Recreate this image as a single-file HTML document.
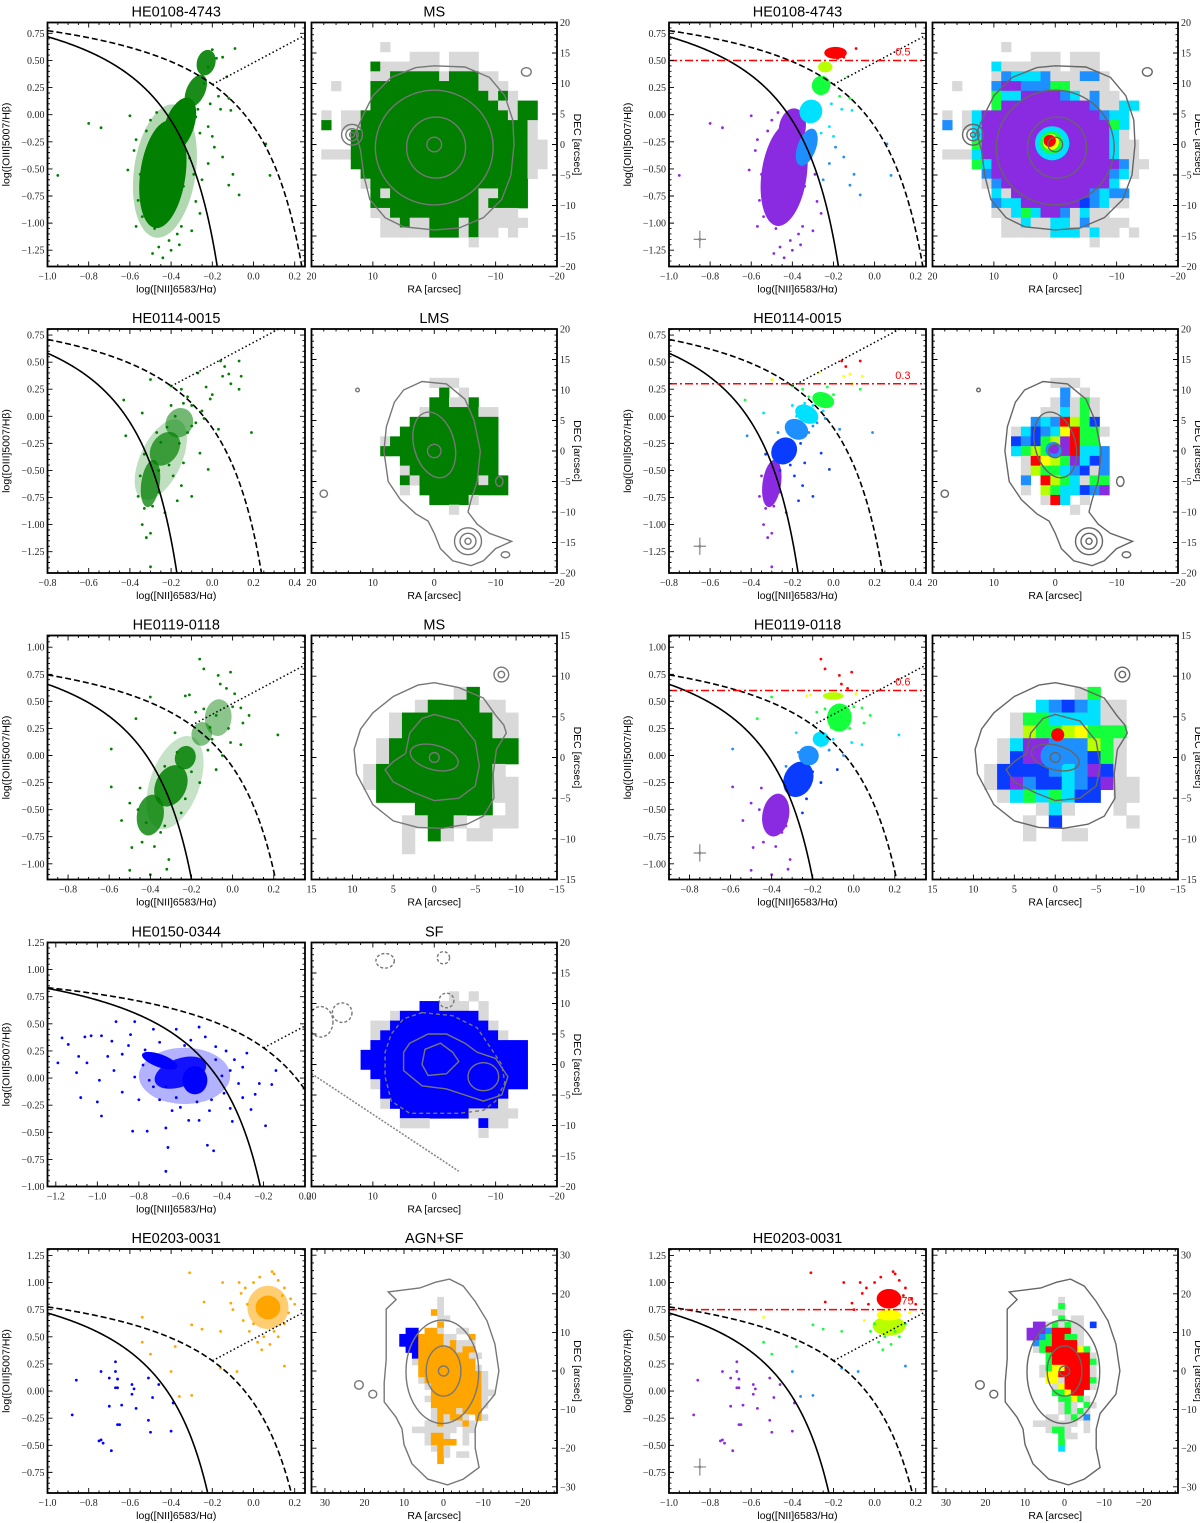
<!DOCTYPE html>
<html><head><meta charset="utf-8">
<style>
html,body{margin:0;padding:0;background:#fff;width:1200px;height:1523px;overflow:hidden;}
svg{display:block;}
.tk{font-family:"Liberation Serif","DejaVu Serif",serif;font-size:10px;fill:#222;}
.ttl{font-family:"Liberation Sans","DejaVu Sans",sans-serif;font-size:14.5px;fill:#000;}
.lab{font-family:"Liberation Sans","DejaVu Sans",sans-serif;font-size:10.5px;fill:#000;}
</style></head>
<body>
<svg id="fig" xmlns="http://www.w3.org/2000/svg" width="1200" height="1523" viewBox="0 0 1200 1523"></svg>
<script>
// ---------------- DATA ----------------
const titles = ['HE0108-4743','HE0114-0015','HE0119-0118','HE0150-0344','HE0203-0031'];
const classes = ['MS','LMS','MS','SF','AGN+SF'];
const hasRight = [true,true,true,false,true];
const xTicks1 = [-1.0,-0.8,-0.6,-0.4,-0.2,0.0,0.2];
const xTicks2 = [-0.8,-0.6,-0.4,-0.2,0.0,0.2,0.4];
const xTicks3 = [-0.8,-0.6,-0.4,-0.2,0.0,0.2];
const xTicks4 = [-1.2,-1.0,-0.8,-0.6,-0.4,-0.2,0.0];
const xTicks5 = [-1.0,-0.8,-0.6,-0.4,-0.2,0.0,0.2];
const yTicks1 = [-1.25,-1.0,-0.75,-0.5,-0.25,0.0,0.25,0.5,0.75];
const yTicks2 = [-1.25,-1.0,-0.75,-0.5,-0.25,0.0,0.25,0.5,0.75];
const yTicks3 = [-1.0,-0.75,-0.5,-0.25,0.0,0.25,0.5,0.75,1.0];
const yTicks4 = [-1.0,-0.75,-0.5,-0.25,0.0,0.25,0.5,0.75,1.0,1.25];
const yTicks5 = [-0.75,-0.5,-0.25,0.0,0.25,0.5,0.75,1.0,1.25];
const raTicks20 = [20,10,0,-10,-20];
const decTicks20 = [-20,-15,-10,-5,0,5,10,15,20];
const raTicks15 = [15,10,5,0,-5,-10,-15];
const decTicks15 = [-15,-10,-5,0,5,10,15];
const raTicks30 = [30,20,10,0,-10,-20];
const decTicks30 = [-30,-20,-10,0,10,20,30];

// BPT scatter points (log NII/Ha, log OIII/Hb)
const pts1 = [[-0.80,-0.08],[-0.74,-0.12],[-0.95,-0.56],[-0.60,-0.01],[-0.61,-0.51],[-0.57,-1.03],[-0.09,0.61],[-0.11,0.04],[0.06,-0.27],[0.08,-0.56],[-0.07,-0.74],[-0.12,-0.65],[-0.10,-0.55],[-0.15,-0.39],[-0.19,-0.30],[-0.17,0.17],[-0.12,0.15],[-0.22,-0.11],[-0.26,-0.17],[-0.49,-1.28],[-0.46,-1.22],[-0.41,-1.16],[-0.37,-1.10],[-0.35,-1.03],[-0.54,-0.94],[-0.56,-0.79],[-0.58,-0.33],[-0.57,-0.23],[-0.28,-0.02],[-0.26,-0.91],[-0.30,-1.07],[-0.34,-0.66],[-0.24,0.29],[-0.22,0.44],[-0.15,0.53],[-0.13,0.35],[-0.52,-0.15],[-0.53,-0.70],[-0.31,-0.40],[-0.29,-0.55],[-0.48,-1.05],[-0.40,-1.25],[-0.20,0.60],[-0.18,0.52],[-0.27,0.05],[-0.33,0.08],[-0.50,-0.05],[-0.47,0.02],[-0.22,-0.45],[-0.25,-0.60],[-0.28,-0.80],[-0.20,-0.20],[-0.16,0.05],[-0.21,0.10],[-0.55,-0.55],[-0.52,-0.90],[-0.44,-1.32],[-0.36,-1.20]];
const pts2 = [[-0.43,0.15],[-0.42,-0.18],[-0.34,0.03],[-0.30,0.34],[-0.25,-0.24],[-0.20,0.28],[-0.15,0.25],[-0.10,0.10],[-0.07,0.40],[-0.03,0.27],[-0.01,0.16],[0.04,0.51],[0.05,0.37],[0.08,0.39],[0.13,0.51],[0.14,0.37],[0.13,0.25],[0.19,-0.15],[0.09,0.30],[0.03,-0.12],[-0.02,-0.49],[-0.10,-0.74],[-0.17,-0.78],[-0.15,-0.64],[-0.23,-0.89],[-0.34,-1.00],[-0.30,-1.08],[-0.32,-1.12],[-0.30,-1.39],[-0.14,-0.43],[-0.06,-0.34],[-0.08,-0.06],[-0.18,0.00],[-0.20,0.10],[-0.10,-0.09],[-0.36,-0.74],[-0.29,-0.83],[-0.12,0.18],[-0.05,0.05],[0.00,0.20],[-0.26,-0.50],[-0.33,-0.35],[-0.21,-0.45],[0.06,0.46],[-0.27,-0.15],[-0.22,-0.10],[-0.16,-0.25],[-0.12,-0.15],[-0.35,-0.55],[-0.33,-0.85],[-0.26,-0.70],[-0.19,-0.55],[-0.14,0.12],[-0.04,-0.02]];
const pts3 = [[-0.16,0.89],[-0.07,0.74],[-0.01,0.77],[-0.14,0.80],[-0.23,0.55],[-0.21,0.56],[-0.40,0.54],[-0.47,0.34],[-0.59,0.06],[-0.59,-0.29],[-0.50,-0.44],[-0.54,-0.60],[-0.49,-0.85],[-0.50,-1.06],[-0.40,-1.10],[-0.32,-1.05],[-0.31,-0.96],[-0.27,0.03],[-0.28,0.21],[0.22,0.19],[0.08,0.37],[0.04,0.44],[0.01,0.57],[-0.08,0.37],[-0.14,0.43],[-0.11,0.26],[-0.01,0.12],[0.04,0.10],[-0.05,0.00],[-0.08,-0.13],[-0.16,-0.25],[-0.23,-0.40],[-0.25,-0.53],[-0.33,-0.65],[-0.44,-0.80],[-0.38,-0.84],[-0.35,-0.71],[-0.03,0.62],[-0.06,0.66],[0.05,0.30],[-0.18,0.40],[-0.45,-0.30],[-0.42,-0.62],[-0.46,-0.50],[-0.36,-0.40],[-0.33,-0.10],[-0.20,-0.15],[-0.12,0.05],[0.00,0.45],[-0.02,0.25],[-0.10,0.15]];
const pts4 = [[-1.19,0.14],[-1.17,0.37],[-1.14,0.31],[-1.08,-0.18],[-1.09,0.20],[-1.06,0.38],[-1.03,0.39],[-0.98,0.39],[-0.99,-0.02],[-0.98,-0.35],[-1.00,-0.22],[-0.93,0.34],[-0.91,0.52],[-0.82,0.52],[-0.83,-0.49],[-0.76,-0.49],[-0.88,-0.13],[-0.67,-0.46],[-0.66,-0.64],[-0.67,-0.86],[-0.47,-0.62],[-0.44,-0.67],[-0.51,-0.39],[-0.36,-0.28],[-0.26,-0.29],[-0.19,-0.44],[-0.16,-0.06],[-0.14,0.07],[-0.34,0.17],[-0.51,0.47],[-0.73,0.45],[-0.77,0.26],[-0.82,0.01],[-0.73,-0.08],[-0.62,0.45],[-0.43,0.29],[-0.36,0.07],[-0.39,-0.14],[-0.60,-0.27],[-0.56,-0.39],[-0.67,-0.08],[-0.92,0.07],[-1.05,0.14],[-0.51,0.04],[-0.43,0.17],[-0.28,0.23],[-0.85,0.30],[-0.80,-0.20],[-0.70,0.33],[-0.45,-0.20],[-0.40,0.02],[-0.32,-0.05],[-0.48,0.38],[-0.95,0.20],[-0.62,-0.18],[-0.55,0.35],[-0.30,0.10],[-0.24,-0.15],[-0.88,0.22],[-0.78,0.12],[-0.84,0.40],[-0.70,-0.20],[-0.46,-0.30],[-0.38,0.25],[-0.30,-0.18],[-0.22,-0.05],[-0.35,-0.40],[-0.58,0.30],[-0.75,-0.02],[-1.10,0.05],[-0.64,-0.30],[-0.52,-0.22]];
const pts5blue = [[-0.67,0.27],[-0.74,0.18],[-0.67,0.18],[-0.86,0.10],[-0.70,0.12],[-0.66,0.11],[-0.59,0.06],[-0.67,0.03],[-0.66,0.03],[-0.58,0.02],[-0.51,0.12],[-0.46,0.06],[-0.59,-0.03],[-0.49,-0.06],[-0.70,-0.14],[-0.64,-0.13],[-0.57,-0.16],[-0.88,-0.22],[-0.66,-0.31],[-0.65,-0.31],[-0.51,-0.27],[-0.50,-0.38],[-0.40,-0.37],[-0.75,-0.46],[-0.74,-0.45],[-0.73,-0.48],[-0.69,-0.55],[-0.39,-0.11]];
const pts5orange = [[-0.31,1.09],[-0.54,0.68],[-0.54,0.45],[-0.50,0.34],[-0.38,0.41],[-0.30,0.61],[-0.25,0.57],[-0.40,0.18],[-0.36,-0.05],[-0.30,-0.04],[-0.24,0.82],[-0.16,0.21],[-0.08,0.18],[-0.15,1.00],[0.15,0.23],[0.09,1.10],[-0.16,0.55],[-0.11,0.81],[-0.07,1.00],[0.04,0.38],[0.00,1.00],[0.03,1.05],[0.12,1.02],[0.15,0.95],[0.18,0.85],[0.17,0.72],[0.15,0.62],[0.10,0.55],[0.05,0.50],[-0.02,0.55],[-0.05,0.65],[-0.03,0.80],[-0.06,0.90],[0.02,0.45],[0.08,0.43],[0.12,0.50],[0.20,0.80],[-0.10,0.75],[0.10,1.08],[-0.04,0.95],[0.14,0.88],[0.00,0.62]];

// dense-core blobs: [x, y, rx, ry, angleDeg, opacity]
const blobs1 = [[-0.43,-0.52,0.15,0.62,8,0.3],[-0.44,-0.55,0.11,0.50,8,1],[-0.36,-0.10,0.07,0.27,20,1],[-0.28,0.22,0.045,0.16,25,0.9],[-0.23,0.48,0.045,0.12,15,0.9]];
const blobs2 = [[-0.25,-0.40,0.10,0.40,25,0.25],[-0.30,-0.62,0.045,0.22,8,0.75],[-0.23,-0.30,0.065,0.17,35,0.7],[-0.16,-0.06,0.065,0.14,30,0.55]];
const blobs3 = [[-0.28,-0.25,0.12,0.45,20,0.22],[-0.40,-0.55,0.065,0.19,10,0.8],[-0.30,-0.28,0.075,0.20,25,0.85],[-0.23,-0.02,0.05,0.11,20,0.85],[-0.15,0.20,0.05,0.11,10,0.5],[-0.07,0.35,0.065,0.17,5,0.45]];
const blobs4 = [[-0.58,0.02,0.22,0.26,0,0.3],[-0.60,0.05,0.13,0.13,-20,0.9],[-0.70,0.16,0.09,0.06,20,1],[-0.53,-0.02,0.06,0.13,0,1]];
const blobs5 = [[0.07,0.77,0.10,0.20,0,0.55],[0.07,0.77,0.06,0.11,0,1]];
// coloured blobs for the right-hand BPTs: [x, y, rx, ry, angle, colourKey]
const blobs1R = [[-0.44,-0.55,0.11,0.48,8,'P'],[-0.40,-0.12,0.065,0.18,10,'P'],[-0.33,-0.30,0.045,0.18,20,'b'],[-0.31,0.03,0.055,0.11,25,'c'],[-0.26,0.27,0.045,0.09,20,'G'],[-0.24,0.44,0.035,0.05,0,'y'],[-0.19,0.57,0.055,0.055,0,'R']];
const blobs2R = [[-0.30,-0.62,0.045,0.22,8,'P'],[-0.24,-0.32,0.06,0.13,35,'B'],[-0.18,-0.12,0.06,0.09,30,'b'],[-0.13,0.02,0.06,0.08,30,'c'],[-0.05,0.15,0.055,0.07,20,'G']];
const blobs3R = [[-0.38,-0.55,0.065,0.2,10,'P'],[-0.27,-0.22,0.07,0.17,25,'B'],[-0.22,0.00,0.05,0.09,20,'b'],[-0.16,0.15,0.04,0.07,10,'c'],[-0.07,0.35,0.06,0.13,5,'G'],[-0.10,0.55,0.05,0.035,0,'y']];
const blobs5R = [[0.07,0.60,0.08,0.09,0,'y'],[0.07,0.70,0.06,0.05,0,'Y'],[0.07,0.85,0.06,0.09,0,'R']];
const purpleMax = [0.05,-0.35,-0.15,0,0.4];
const breaks1 = [-0.2,0.15,0.38,0.5]; const names1 = ['b','c','G','y','R'];
const breaks2 = [-0.2,0.0,0.15,0.3,0.45]; const names2 = ['B','b','c','G','Y','R'];
const breaks3 = [-0.1,0.1,0.25,0.55,0.6]; const names3 = ['B','b','c','G','Y','R'];
const breaks5 = [0.3,0.65,0.75]; const names5 = ['b','G','Y','R'];
const redLine = [0.5,0.3,0.6,null,0.75];
const errCross = [[-0.85,-1.15],[-0.65,-1.2],[-0.75,-0.9],null,[-0.85,-0.7]];

const grid1L = [".........................",".........................",".......g.................","..........ggg.ggg........","......Cgggggg.ggg........","......ggCCCCCgCCCgg......","..g...CCCCCCCCCCCggg.....","......CCCCCCCCCCCCgCg....","......CCCCCCCCCCCCCggCC..",".g.ggCCCCCCCCCCCCCCCgCC..",".C.ggCCCCCCCCCCCCCCCCCg..","....CCCCCCCCCCCCCCCCCCg..","....CCCCCCCCCCCCCCCCCCgg.",".gggCCCCCCCCCCCCCCCCCCgg.","....CCCCCCCCCCCCCCCCCCgg.",".....CCCCCCCCCCCCCCCCCg..",".....gCCCCCCCCCCCCCCCC...","......CgCCCCCCCCCggCCC...","......CCCCCCCCCCCgCCCC...","......ggCCCCCCCCCgggg....",".......ggCggCCCgCggggg...",".......gggggCCCgCgg.g....","................g........"];
const grid1R = [".........................",".........................",".......g.................","..........ggg.ggg........","......cgggggg.ggg........","......gbcccbgggbbg.......","..g...bPPbbbGGgggg.......","......GccPPPPbcgbgg......","......GPPPPPPPPPbggcc....",".g.gcPPPPPPPPPPPPbcc.....",".b.gcPPPPPPPPPPPPPGc.....","....cPPPPPPPPPPPPPcg.....","....GPPPPPPPPPPPPPcgg....",".gggcPPPPPPPPPPPPPcgg....","....GcPPPPPPPPPPPPPbgg...",".....bPPPPPPPPPPPPbcg....",".....gbPPPPPPPPPPPc......","......cgPPPPPPPPbcbb.....","......bccPPPPPPBbcgg.....","......ggcGcPPbgcgg.......",".......ggcggccgbgggg.....",".......gggggcccgcgg.g....","................g........"];
const grid2L = [".........................",".........................",".........................",".........................",".........................","............ggg..........",".............C.g.........","............CCggC........","...........gCCCCCgg......","..........CCCCCCCCC......",".........CCCCCCCCCC......",".......gCCCCCCCCCCC......",".......CCCCCCCCCCCC......",".........CCCCCCCCCC......",".........gCCCCCCCCC......",".........CgCCCCCCgCC.....",".........g.CCCCCCCCC.....","............CCCCg........","..............g.........."];
const grid2R = [".........................",".........................",".........................",".........................",".........................","............ggg..........",".............b.g.........","............gbgGg........","...........ggcgGg........","..........bcbRyGB........","........gcBbcYRGGg.......","........BbBGyPRGG........","........cGyGcPRccb.......",".........gRYyGPcBb.......",".........gyGGcbBgb.......",".........b.RyGcgGG.......",".........g.yGccBbP.......","...........gRc.g.........","..............g.........."];
const grid3L = ["...................","...................","...................","...................","...........gC......","........gCCCCgg....","......gCCCCCCCgg...","......gCCCCCCCgg...",".....gCCCCCCCCCC...",".....gCCCCCCCCCC...","....gCCCCCCCCCg....","....gCCCCCCCCCgg...",".....CCCCCCCCCgg...","........CCCCCC.g...",".......ggCCg.ggg...",".......g.Cg.gg.....",".......g..........."];
const grid3R = ["...................","...................","...................","...................","...........gG......","........cbBbcgg....","......gGGccccgg....","......gyGGyYGGG....",".....gcPPbbbyGg....",".....gBPPBbbBGg....","....gBBBBbcbPBg....","....gBPbBBcbBPgg...",".....gcGcGcBB.gg...","........gcg...g....",".......g.B.....g...",".......g..gg......."];
const grid4L = [".........................",".........................",".........................",".........................",".........................","..............g.g........","...........CCggg.g.......","........gCCCCCCCCg.......","......ggCCCCCCCCCCg......","......gCCCCCCCCCCCCg.....","......CCCCCCCCCCCCCCCC...",".....CCCCCCCCCCCCCCCCC...",".....CCCCCCCCCCCCCCCCC...","......CCCCCCCCCCCCCCCC...","......gCCCCCCCCCCCCCCC...",".......CCCCCCCCCCCCC.....",".......gCCCCCCCCCCCg.....",".........CCCCCCCggggg....",".........ggg.....Cgg.....",".................g......."];
const grid5L = ["........g.........","........g.........",".......Cg.........","........gg........","........C.........","...KK.CCg..gg.....","..KKKCCCCgg..C....","..KKKCCCCgCggg....","...KKCCCCCCgCC....","....KCCCCCCCCgg...","....gCCCCCCCCC....",".....CCCCCCCCCg...",".....CCCCCCCCCCg..",".....gCCCCCCCCCg..","......gCCCCCCCCg..",".......CCCCCCCCgg.","......gCCCCCCCCg..",".......CCCCCCCCg..",".......gCCCgCCC...",".......gCgCCg.Cg..","......ggCgggCg....","....ggggggg.gg....","......gCCg..g.....","......gCCCC.g.....",".......gCg........","........Cg.gg.....","........C........."];
const grid5R = ["........g.........","........G.........",".......gg.........","........G.gg......","....PPgGgGgg.B....","...PPPbRRRgg......","...PPbGRRGGg......","....bGGRRRRg......","....gGRRRRRYG.....","......GRRRRRRg....","......GRRRRRRG....",".....gGYYRRRRg....",".....gYYRRRRRg....","......YYgRRRRG....",".......gYRRRRg....",".......GGYRR......","........GGYGg.....","........gGg.Gg....","........gGgGg.....","......gg.gGgb.....","....ggggggg.g.....","......gGGg..g.....","........Ggg.......","........G.........","........c........."];
const gridGeo = [[20,20,1.6],[20,20,1.6],[15,15,30/19],[20,20,1.6],[14.4,19.2,1.6]];

const cont1 = [[0,12.9],[-5,12.7],[-9,11],[-11.5,8],[-12.8,4],[-13,0],[-12.5,-5],[-11,-9],[-8,-12],[-4,-13.7],[0,-14],[5,-13.5],[8,-12],[10.5,-9],[11.5,-5],[12,-1],[12.8,2],[11.5,5],[10,8],[7,11],[3,12.6]];
const cont2 = [[5,10],[2,11.4],[-2,11],[-5,8.5],[-6.5,5],[-7.5,0],[-7,-5],[-6,-8],[-5.5,-10],[-7,-12],[-9,-13.5],[-12.6,-14.8],[-10,-16],[-8,-18],[-6,-18.8],[-3,-18],[-1,-16],[0,-13.5],[1,-11.5],[3,-10.3],[5.5,-8],[7.5,-5],[8.2,0],[7.8,4],[6.5,8]];
const cont3 = [[0,9.2],[-3,8.6],[-6,7.3],[-7.5,5.2],[-8.5,4],[-8.8,3],[-7.6,1],[-7.2,-2],[-7.3,-5],[-6,-7.2],[-4,-8.2],[-1,-8.7],[2,-8.6],[5,-7.8],[7.5,-5.8],[9.5,-2],[9.8,1],[9,3.5],[7.5,5.5],[5,7.5],[2,8.9]];
const cont3b = [[0,5.3],[-3,4.5],[-5,2],[-5.5,-1],[-5,-3.5],[-3,-5],[0,-5.3],[2.5,-4.3],[5,-3],[6,-1.5],[5,-0.5],[3.5,0.5],[3,3],[1.5,4.8]];
const cont4 = [[2,8.5],[-3,8],[-7,6],[-9,3],[-11,0],[-11.5,-3],[-10,-6],[-8,-7.5],[-4,-8],[0,-8],[4,-8],[7,-6],[8,-2],[8,2],[7,5],[5,7.5]];
const cont4b = [[4,3.5],[1,5],[-2,5],[-5,3.5],[-7,2],[-10,1],[-12,-2],[-11,-5],[-8,-6],[-5,-5],[-2,-4],[2,-3.5],[5,-1],[5,2]];
const cont4c = [[1.5,2.5],[-1,3.5],[-3,2],[-4,0.5],[-2,-1.5],[1,-1.8],[2,0]];
const cont4d = [[20,-1.5],[-4,-17.5]];
const cont5 = [[14,20.5],[10,21],[6,21.5],[2,23],[-1.5,23.8],[-5,22],[-8,18],[-11,13],[-13,7],[-14,0],[-13,-6],[-9,-11],[-8,-15],[-8,-20],[-9,-25],[-5,-28],[-1,-29.5],[4,-28],[8,-24],[10,-19],[10.5,-15],[12,-12],[15,-8],[15,-3],[14.5,3],[14.5,10],[14.5,16],[12,18.5]];
const ell1 = [[0,-0.5,9.6,9.4,0,0],[-0.3,-0.5,4.8,5,0,0],[0,0,1.2,1.2,0,0],[13.4,1.6,1.7,1.7,0,0],[13.4,1.6,1,1,0,0],[13.4,1.6,0.4,0.4,0,0],[-15,11.9,0.8,0.7,0,0]];
const ell2 = [[0,1,3.3,5.5,-15,0],[0,0,1.1,1.1,0,0],[-5.5,-14.8,2.2,2.2,0,0],[-5.5,-14.8,1.3,1.3,0,0],[-5.5,-14.8,0.5,0.5,0,0],[18,-7,0.6,0.6,0,0],[-10.6,-5,0.6,0.8,0,0],[-11.6,-17,0.7,0.5,0,0],[12.5,10,0.3,0.3,0,0]];
const ell3 = [[0,0,3,1.5,15,0],[0,0,0.6,0.6,0,0],[-8.2,10.2,0.9,0.9,0,0],[-8.2,10.2,0.4,0.4,0,0]];
const ell4 = [[-8,-2,2.5,2.3,0,0],[8,17,1.5,1.2,0,1],[-1.5,17.5,1,1,0,1],[-2,10.5,1.2,1.2,0,1],[15,8.5,1.6,1.6,0,1],[18.5,7,2,2.5,0,1]];
const ell5 = [[0.3,-0.2,9.2,13.4,0,0],[0,0,4.4,6.5,0,0],[0,0,1.3,1.3,0,0],[21.4,-3.6,1.1,1.1,0,0],[17.9,-6,1,1,0,0]];
const core1 = [[0.5,0.2,2.8,'c'],[0.6,0.3,1.9,'G'],[0.7,0.4,1.3,'Y'],[0.9,0.6,1.0,'R']];
const core2 = [[0.3,0.2,1.3,'b'],[0.2,0.3,0.8,'P']];
const core3 = [[0.2,0.2,1.6,'b'],[-0.3,2.8,0.8,'R']];

// ---------------- DRAWING ----------------
const PAL={P:'#8a2be2',B:'#0a3cff',b:'#1e8fff',c:'#00e1ff',G:'#14ff3c',y:'#b8ff00',Y:'#ffff00',R:'#ff0000',g:'#d9d9d9',E:'#007f00',K:'#0000ff',O:'#ffa500'};
const rowColor=['E','E','E','K','O'];
const ROW_TOP=[22.5,329,635.5,942.5,1249], PH=244;
const BPT_L=[47.5,305], MAP_L=[311.5,557], BPT_R=[669,926], MAP_R=[932.5,1178];
const XR=[[-1.0,0.25],[-0.8,0.45],[-0.9,0.352],[-1.24,0.0],[-1.0,0.25]];
const YR=[[-1.40,0.85],[-1.447,0.806],[-1.145,1.108],[-1.0,1.25],[-0.94,1.309]];
const XT=[xTicks1,xTicks2,xTicks3,xTicks4,xTicks5], YT=[yTicks1,yTicks2,yTicks3,yTicks4,yTicks5];
const RAR=[[20,-20],[20,-20],[15,-15],[20,-20],[33.4,-28.7]];
const DECR=[[-20,20],[-20,20],[-15,15],[-20,20],[-31.6,31.6]];
const RAT=[raTicks20,raTicks20,raTicks15,raTicks20,raTicks30], DECT=[decTicks20,decTicks20,decTicks15,decTicks20,decTicks30];
const PTS=[pts1,pts2,pts3,pts4,null], BLOBS=[blobs1,blobs2,blobs3,blobs4,blobs5], BLOBSR=[blobs1R,blobs2R,blobs3R,null,blobs5R];
const BRK=[[breaks1,names1],[breaks2,names2],[breaks3,names3],null,[breaks5,names5]];
const GL=[grid1L,grid2L,grid3L,grid4L,grid5L], GR=[grid1R,grid2R,grid3R,null,grid5R];
const CONT=[[cont1],[cont2],[cont3,cont3b],[cont4b,cont4c],[cont5]], ELL=[ell1,ell2,ell3,ell4,ell5], CORE=[core1,core2,core3,null,null];

const NS='http://www.w3.org/2000/svg';
const svg=document.getElementById('fig');
function mk(tag,parent){const e=document.createElementNS(NS,tag);parent.appendChild(e);return e;}
function at(e,o){for(const k in o)e.setAttribute(k,o[k]);return e;}
function fmt(v,d){const s=Math.abs(v).toFixed(d);return (v<-1e-9?'\u2212':'')+s;}
function scale(a,b,p,q){return v=>p+(v-a)/(b-a)*(q-p);}
const kauff=x=>0.61/(x-0.05)+1.3, kewley=x=>0.61/(x-0.47)+1.19;
let clipId=0;

function axes(g,box,xr,yr,xt,yt,xminor,yminor,xd,yd,ySide){
  const sx=scale(xr[0],xr[1],box[0],box[1]), sy=scale(yr[0],yr[1],box[3],box[2]);
  const tg=mk('g',g);
  
  
  let d='';
  const lo=Math.min(xr[0],xr[1]), hi=Math.max(xr[0],xr[1]);
  for(let v=Math.ceil(lo/xminor-1e-6)*xminor; v<=hi+1e-9; v+=xminor){
    const X=sx(v), maj=xt.some(t=>Math.abs(t-v)<xminor/3), L=maj?5:2.5;
    d+=`M${X},${box[3]}v${-L}M${X},${box[2]}v${L}`;
  }
  const ylo=Math.min(yr[0],yr[1]), yhi=Math.max(yr[0],yr[1]);
  for(let v=Math.ceil(ylo/yminor-1e-6)*yminor; v<=yhi+1e-9; v+=yminor){
    const Y=sy(v), maj=yt.some(t=>Math.abs(t-v)<yminor/3), L=maj?5:2.5;
    d+=`M${box[0]},${Y}h${L}M${box[1]},${Y}h${-L}`;
  }
  at(mk('path',tg),{d:d,stroke:'#000','stroke-width':0.9,fill:'none'});
  for(const v of xt){
    const t=mk('text',g); at(t,{x:sx(v),y:box[3]+13,'text-anchor':'middle',class:'tk'}); t.textContent=fmt(v,xd);
    
    
  }
  for(const v of yt){
    const t=mk('text',g);
    if(ySide==='left') at(t,{x:box[0]-3,y:sy(v)+3.5,'text-anchor':'end',class:'tk'});
    else at(t,{x:box[1]+3,y:sy(v)+3.5,'text-anchor':'start',class:'tk'});
    t.textContent=fmt(v,yd);
    
    
  }
  const fr=mk('rect',g); at(fr,{x:box[0],y:box[2],width:box[1]-box[0],height:box[3]-box[2],fill:'none',stroke:'#000','stroke-width':1.8});
  
  
  return [sx,sy];
}

function colourOf(r,x,y){
  if(y<kauff(x) && y<purpleMax[r] && x<0.05) return 'P';
  const br=BRK[r][0], nm=BRK[r][1];
  let i=0; while(i<br.length && y>=br[i]) i++;
  return nm[i];
}

function drawBPT(r,right){
  const top=ROW_TOP[r], hx=right?BPT_R:BPT_L, box=[hx[0],hx[1],top,top+PH];
  const g=mk('g',svg);
  
  
  const xr=XR[r], yr=YR[r];
  const sx=scale(xr[0],xr[1],box[0],box[1]), sy=scale(yr[0],yr[1],box[3],box[2]);
  const kx=(box[1]-box[0])/(xr[1]-xr[0]), ky=(box[3]-box[2])/(yr[1]-yr[0]);
  const cid='c'+(clipId++);
  const cp=mk('clipPath',g); cp.setAttribute('id',cid);
  at(mk('rect',cp),{x:box[0],y:box[2],width:box[1]-box[0],height:box[3]-box[2]});
  const inner=mk('g',g); inner.setAttribute('clip-path',`url(#${cid})`);
  
  
  if(!right){
    for(const b of BLOBS[r]){
      const e=mk('ellipse',inner);
      at(e,{cx:0,cy:0,rx:b[2]*kx,ry:b[3]*ky,fill:PAL[rowColor[r]],opacity:b[5],transform:`translate(${sx(b[0])},${sy(b[1])}) rotate(${b[4]})`});
      
      
    }
  } else {
    for(const b of BLOBSR[r]){
      const e=mk('ellipse',inner);
      at(e,{cx:0,cy:0,rx:b[2]*kx,ry:b[3]*ky,fill:PAL[b[5]],transform:`translate(${sx(b[0])},${sy(b[1])}) rotate(${b[4]})`});
      
      
    }
  }
  const sets = r===4 ? [[pts5blue,'K'],[pts5orange,'O']] : [[PTS[r],rowColor[r]]];
  for(const s of sets){
    for(const p of s[0]){
      const c=mk('circle',inner);
      const col = right ? PAL[colourOf(r,p[0],p[1])] : PAL[s[1]];
      at(c,{cx:sx(p[0]),cy:sy(p[1]),r:1.4,fill:col});
      
      
    }
  }
  let d1='',d2='';
  for(let i=0;i<=300;i++){
    const x=xr[0]+(Math.min(0.049,xr[1])-xr[0])*i/300, y=Math.max(kauff(x),yr[0]-1);
    d1+=(i?'L':'M')+sx(x).toFixed(2)+','+sy(y).toFixed(2);
    const x2=xr[0]+(xr[1]-xr[0])*i/300, y2=Math.max(kewley(x2),yr[0]-1);
    d2+=(i?'L':'M')+sx(x2).toFixed(2)+','+sy(y2).toFixed(2);
  }
  const k1=mk('path',inner); at(k1,{d:d1,stroke:'#000','stroke-width':1.6,fill:'none'});
  
  
  const k2=mk('path',inner); at(k2,{d:d2,stroke:'#000','stroke-width':1.6,fill:'none','stroke-dasharray':'6,3'});
  
  
  let a=-0.6,bb=0.4; const f=x=>1.01*x+0.48-kewley(x);
  for(let i=0;i<60;i++){const m=(a+bb)/2; if(f(m)<0)a=m; else bb=m;}
  const k3=mk('line',inner); at(k3,{x1:sx(a),y1:sy(1.01*a+0.48),x2:sx(xr[1]),y2:sy(1.01*xr[1]+0.48),stroke:'#000','stroke-width':1.5,'stroke-dasharray':'1.5,2.5'});
  
  
  if(right){
    const yv=redLine[r];
    const rl=mk('line',inner); at(rl,{x1:box[0],x2:box[1],y1:sy(yv),y2:sy(yv),stroke:'#ff0000','stroke-width':1.5,'stroke-dasharray':'8,3,2,3'});
    
    
    const rt=mk('text',g); at(rt,{x:box[0]+(box[1]-box[0])*0.91,y:sy(yv)-5,'text-anchor':'middle',class:'lab',style:'fill:#ff0000;font-size:11px'});
    rt.textContent=String(yv);
    
    
    const ec=errCross[r];
    const eg=mk('path',inner);
    at(eg,{d:`M${sx(ec[0]-0.03)},${sy(ec[1])}H${sx(ec[0]+0.03)}M${sx(ec[0])},${sy(ec[1]-0.08)}V${sy(ec[1]+0.08)}`,stroke:'#888','stroke-width':1.2,fill:'none'});
    
    
    const ed=mk('circle',inner); at(ed,{cx:sx(ec[0]),cy:sy(ec[1]),r:1.5,fill:'#888'});
    
    
  }
  axes(g,box,xr,yr,XT[r],YT[r],0.05,0.05,1,2,'left');
  const xl=mk('text',g); at(xl,{x:(box[0]+box[1])/2,y:box[3]+26,'text-anchor':'middle',class:'lab'}); xl.textContent='log([NII]6583/H\u03b1)';
  
  
  const yx=box[0]-38;
  const yl=mk('text',g); at(yl,{x:yx,y:(box[2]+box[3])/2,'text-anchor':'middle',class:'lab',transform:`rotate(-90 ${yx} ${(box[2]+box[3])/2})`}); yl.textContent='log([OIII]5007/H\u03b2)';
  
  
  const tt=mk('text',g); at(tt,{x:(box[0]+box[1])/2,y:top-6,'text-anchor':'middle',class:'ttl'}); tt.textContent=titles[r];
  
  
}

function drawMap(r,right){
  const top=ROW_TOP[r], hx=right?MAP_R:MAP_L, box=[hx[0],hx[1],top,top+PH];
  const g=mk('g',svg);
  
  
  const xr=RAR[r], yr=DECR[r];
  const sx=scale(xr[0],xr[1],box[0],box[1]), sy=scale(yr[0],yr[1],box[3],box[2]);
  const kx=(box[1]-box[0])/Math.abs(xr[1]-xr[0]), ky=(box[3]-box[2])/(yr[1]-yr[0]);
  const cid='c'+(clipId++);
  const cp=mk('clipPath',g); cp.setAttribute('id',cid);
  at(mk('rect',cp),{x:box[0],y:box[2],width:box[1]-box[0],height:box[3]-box[2]});
  const inner=mk('g',g); inner.setAttribute('clip-path',`url(#${cid})`);
  
  
  const grid=right?GR[r]:GL[r], geo=gridGeo[r];
  for(let i=0;i<grid.length;i++){
    for(let j=0;j<grid[i].length;j++){
      let ch=grid[i][j]; if(ch==='.') continue;
      if(ch==='C') ch=rowColor[r];
      const x0=sx(geo[0]-j*geo[2]), x1=sx(geo[0]-(j+1)*geo[2]);
      const y0=sy(geo[1]-i*geo[2]), y1=sy(geo[1]-(i+1)*geo[2]);
      const c=mk('rect',inner); at(c,{x:x0,y:y0,width:x1-x0+0.4,height:y1-y0+0.4,fill:PAL[ch]});
      
      
    }
  }
  if(right && CORE[r]){
    for(const c0 of CORE[r]){
      const c=mk('ellipse',inner); at(c,{cx:sx(c0[0]),cy:sy(c0[1]),rx:c0[2]*kx,ry:c0[2]*ky,fill:PAL[c0[3]]});
      
      
    }
  }
  const stroke=right?'#666':'#777';
  for(const poly of CONT[r]){
    const p=mk('polygon',inner);
    at(p,{points:poly.map(q=>sx(q[0]).toFixed(1)+','+sy(q[1]).toFixed(1)).join(' '),fill:'none',stroke:stroke,'stroke-width':1.4});
    
    
  }
  if(r===3){
    const p=mk('polygon',inner);
    at(p,{points:cont4.map(q=>sx(q[0]).toFixed(1)+','+sy(q[1]).toFixed(1)).join(' '),fill:'none',stroke:'#777','stroke-width':1.4,'stroke-dasharray':'4,3'});
    
    
    const l=mk('line',inner);
    at(l,{x1:sx(cont4d[0][0]),y1:sy(cont4d[0][1]),x2:sx(cont4d[1][0]),y2:sy(cont4d[1][1]),stroke:'#888','stroke-width':1.6,'stroke-dasharray':'2,1.5'});
    
    
  }
  for(const e0 of ELL[r]){
    const e=mk('ellipse',inner);
    at(e,{cx:0,cy:0,rx:e0[2]*kx,ry:e0[3]*ky,fill:'none',stroke:stroke,'stroke-width':1.4,'stroke-dasharray':e0[5]?'3,2':'none',transform:`translate(${sx(e0[0])},${sy(e0[1])}) rotate(${e0[4]})`});
    
    
  }
  const rStep = r===2?1:2, dStep = r===4?2:1;
  axes(g,box,xr,yr,RAT[r],DECT[r],rStep,dStep,0,0,'right');
  const xl=mk('text',g); at(xl,{x:(box[0]+box[1])/2,y:box[3]+26,'text-anchor':'middle',class:'lab'}); xl.textContent='RA [arcsec]';
  
  
  const yx=box[1]+17, ym=(box[2]+box[3])/2;
  const yl=mk('text',g); at(yl,{x:yx,y:ym,'text-anchor':'middle',class:'lab',transform:`rotate(90 ${yx} ${ym})`}); yl.textContent='DEC [arcsec]';
  
  
  if(!right){
    const tt=mk('text',g); at(tt,{x:(box[0]+box[1])/2,y:top-6,'text-anchor':'middle',class:'ttl'}); tt.textContent=classes[r];
    
    
  }
}

for(let r=0;r<5;r++){
  drawBPT(r,false);
  drawMap(r,false);
  if(hasRight[r]){ drawBPT(r,true); drawMap(r,true); }
}
</script>
</body></html>
